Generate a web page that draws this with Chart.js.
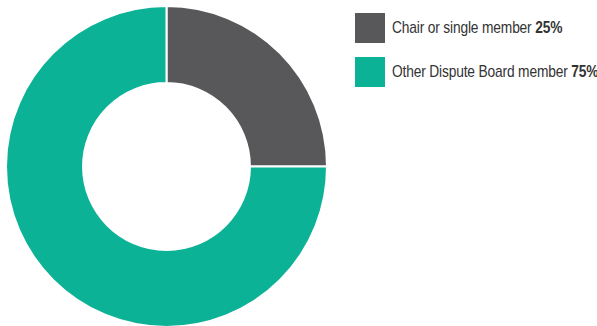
<!DOCTYPE html>
<html>
<head>
<meta charset="utf-8">
<script src="https://cdn.jsdelivr.net/npm/chart.js@4.4.0/dist/chart.umd.min.js"></script>
<style>
  html, body { margin: 0; padding: 0; background: #fff; }
  #wrap { position: relative; width: 597px; height: 326px; overflow: hidden; }
  #box { position: absolute; left: 5px; top: 5px; width: 323px; height: 323px; }
  #legend { position: absolute; left: 355px; top: 13px; font-family: "Liberation Sans", Arial, sans-serif; font-size: 17px; color: #333; }
  .item { position: relative; height: 30px; margin-bottom: 14px; white-space: nowrap; }
  .sw { position: absolute; left: 0; top: 0; width: 30px; height: 30px; }
  .lbl { position: absolute; left: 37px; top: 5px; line-height: 20px; transform: scaleX(0.81); transform-origin: 0 0; letter-spacing: -0.2px; }
  .lbl b { font-weight: bold; }
</style>
</head>
<body>
<div id="wrap">
  <div id="box"><canvas id="canvas"></canvas></div>
  <div id="legend"></div>
</div>
<script>
// 数据
var labels = ['Chair or single member', 'Other Dispute Board member'];
var values = [25, 75];
var colors = ['#58585a', '#0bb295'];

// legend
var html = '';
for (var i = 0; i < labels.length; i++) {
    html += '<div class="item"><div class="sw" style="background:' + colors[i] + '"></div>' +
            '<div class="lbl">' + labels[i] + ' <b>' + values[i] + '%</b></div></div>';
}
document.getElementById('legend').innerHTML = html;

var ctx = document.getElementById('canvas').getContext('2d');
new Chart(ctx, {
    type: 'doughnut',
    data: {
        labels: labels,
        datasets: [{
            data: values,
            backgroundColor: colors,
            borderColor: '#ffffff',
            borderWidth: 2
        }]
    },
    options: {
        responsive: true,
        maintainAspectRatio: false,
        animation: false,
        cutout: '52%',
        layout: { padding: 0 },
        plugins: {
            legend: { display: false },
            tooltip: { enabled: false }
        }
    }
});
</script>
</body>
</html>
